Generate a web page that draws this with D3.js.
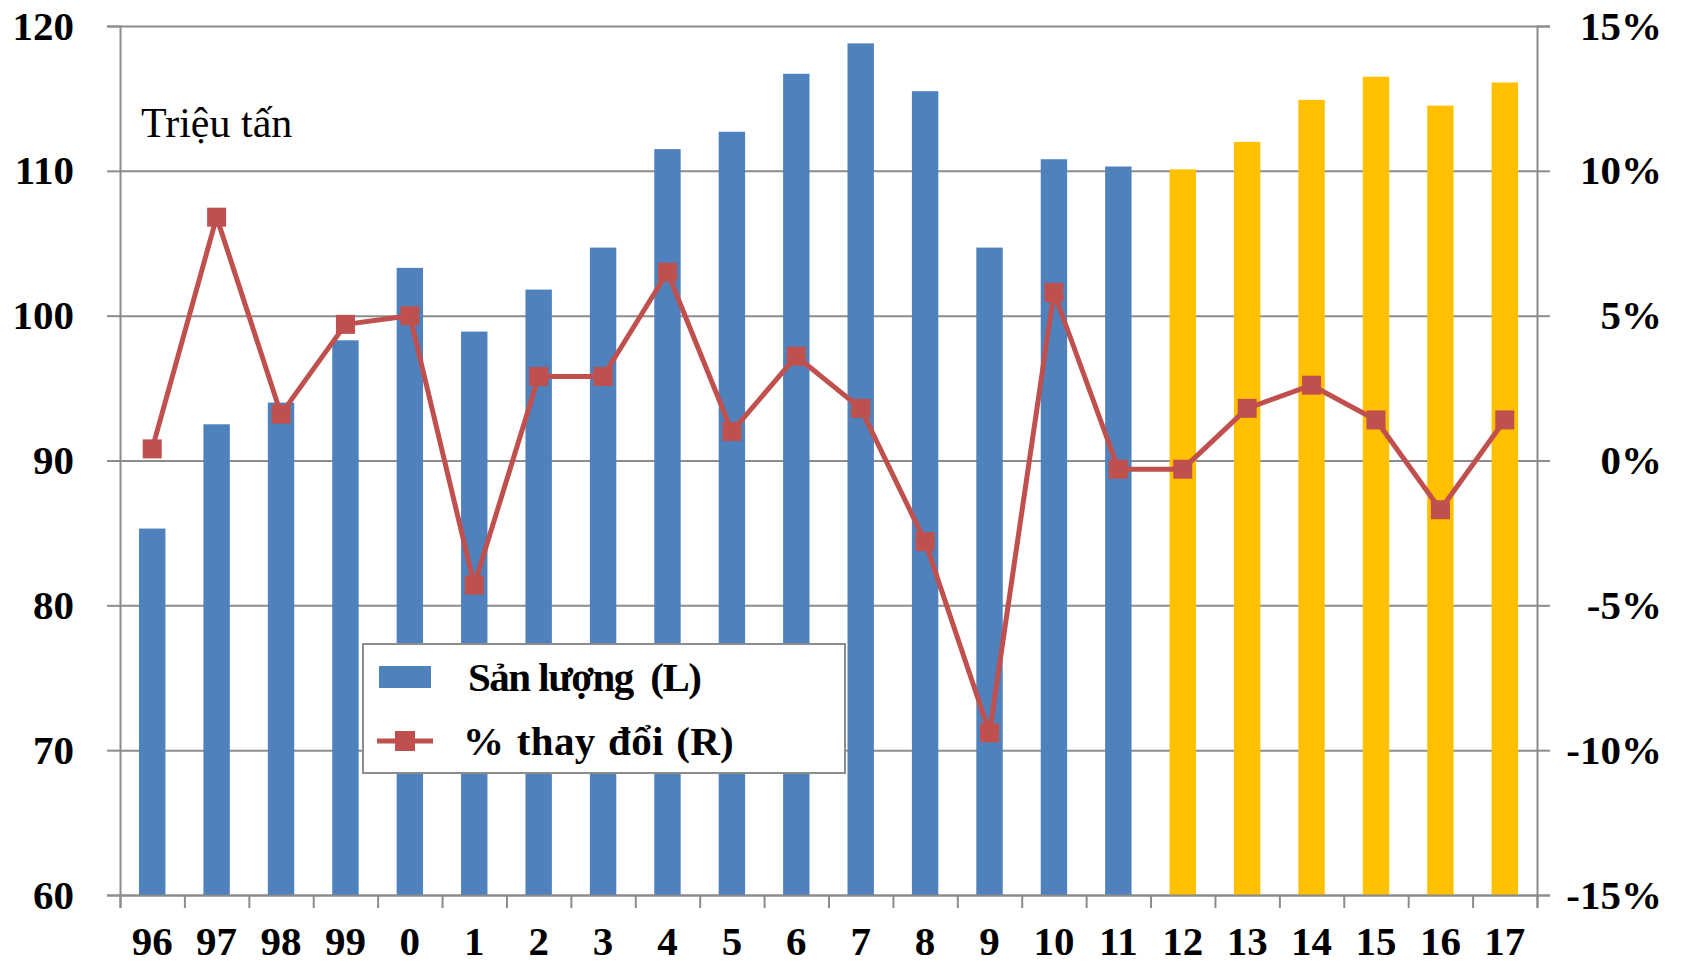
<!DOCTYPE html>
<html>
	<head>
		<title>San luong</title>
		<script src="https://d3js.org/d3.v7.min.js"></script>
		<style>
			body { margin: 0; background: #fff; }
			svg { display: block; }
			text { font-family: "Times New Roman", "Liberation Serif", serif; fill: #000; }
		</style>
	</head>
	<body>
		<svg id="chart" width="1682" height="965"></svg>
		<script>
			// data
			var years = ["96","97","98","99","0","1","2","3","4","5","6","7","8","9","10","11","12","13","14","15","16","17"];
			var production = [85.3, 92.5, 94.0, 98.3, 103.3, 98.9, 101.8, 104.7, 111.5, 112.7, 116.7, 118.8, 115.5, 104.7, 110.8, 110.3, 110.1, 112.0, 114.9, 116.5, 114.5, 116.1];
			var pctChange = [0.4, 8.4, 1.6, 4.7, 5.0, -4.3, 2.9, 2.9, 6.5, 1.0, 3.6, 1.8, -2.8, -9.4, 5.8, -0.3, -0.3, 1.8, 2.6, 1.4, -1.7, 1.4];
			var forecastYears = ["12","13","14","15","16","17"];
			var leftTicks = [60, 70, 80, 90, 100, 110, 120];
			var rightTicks = [-15, -10, -5, 0, 5, 10, 15];
			var seriesNames = ["Sản lượng  (L)", "% thay đổi (R)"];
			var unitLabel = "Triệu tấn";

			var rows = years.map(function(y, i) {
				return {year: y, prod: production[i], pct: pctChange[i]};
			});

			var margin = {top: 26, right: 145, bottom: 70, left: 120};
			var W = 1682, H = 965;
			var w = W - margin.left - margin.right;
			var h = H - margin.top - margin.bottom;

			var svg = d3.select("#chart");
			var g = svg.append("g").attr("transform", "translate(" + margin.left + "," + margin.top + ")");

			var x = d3.scaleBand().domain(years).range([0, w]).paddingInner(0.59).paddingOuter(0.295);
			var xIdx = d3.scaleLinear().domain([0, years.length]).range([0, w]);
			var y = d3.scaleLinear().domain([60, 120]).range([h, 0]);
			var y2 = d3.scaleLinear().domain([-15, 15]).range([h, 0]);

			var gridColor = "#8c8c8c";

			// gridlines
			g.append("g")
			.attr("class", "grid")
			.call(d3.axisLeft(y).tickValues(leftTicks).tickSize(-w).tickFormat(""))
			.call(function(s) {
				s.select(".domain").remove();
				s.selectAll("line").attr("stroke", gridColor).attr("stroke-width", 2);
			});

			// bars
			g.selectAll("rect.bar")
			.data(rows)
			.enter()
			.append("rect")
			.attr("class", "bar")
			.attr("x", function(d) { return x(d.year); })
			.attr("width", x.bandwidth())
			.attr("y", function(d) { return y(d.prod); })
			.attr("height", function(d) { return h - y(d.prod); })
			.attr("fill", function(d) { return forecastYears.indexOf(d.year) >= 0 ? "#FFC000" : "#4F81BD"; });

			// left axis
			g.append("g")
			.call(d3.axisLeft(y).tickValues(leftTicks).tickSize(13).tickPadding(33))
			.call(function(s) {
				s.select(".domain").attr("stroke", gridColor).attr("stroke-width", 2);
				s.selectAll("line").attr("stroke", gridColor).attr("stroke-width", 2);
				s.selectAll("text").style("font-size", "41px").style("font-weight", "bold");
			});

			// right axis
			g.append("g")
			.attr("transform", "translate(" + w + ",0)")
			.call(d3.axisRight(y2).tickValues(rightTicks).tickSize(13).tickFormat(function(d) { return d + "%"; }))
			.call(function(s) {
				s.select(".domain").attr("stroke", gridColor).attr("stroke-width", 2);
				s.selectAll("line").attr("stroke", gridColor).attr("stroke-width", 2);
				s.selectAll("text")
				.attr("x", 125)
				.attr("text-anchor", "end")
				.style("font-size", "41px").style("font-weight", "bold");
			});

			// bottom axis: tick marks at band edges
			g.append("g")
			.attr("transform", "translate(0," + h + ")")
			.call(d3.axisBottom(xIdx).tickValues(d3.range(years.length + 1)).tickSize(13).tickFormat(""))
			.call(function(s) {
				s.select(".domain").attr("stroke", gridColor).attr("stroke-width", 2);
				s.selectAll("line").attr("stroke", gridColor).attr("stroke-width", 2);
			});

			// bottom labels
			g.append("g")
			.attr("transform", "translate(0," + h + ")")
			.call(d3.axisBottom(x).tickSize(0).tickPadding(31))
			.call(function(s) {
				s.select(".domain").remove();
				s.selectAll("text").style("font-size", "41px").style("font-weight", "bold");
			});

			// percent change line
			var red = "#C0504D";
			var line = d3.line()
			.x(function(d) { return x(d.year) + x.bandwidth() / 2; })
			.y(function(d) { return y2(d.pct); });

			g.append("path")
			.datum(rows)
			.attr("d", line)
			.attr("fill", "none")
			.attr("stroke", red)
			.attr("stroke-width", 5)
			.attr("stroke-linejoin", "round");

			var ms = 19;
			g.selectAll("rect.mark")
			.data(rows)
			.enter()
			.append("rect")
			.attr("class", "mark")
			.attr("x", function(d) { return x(d.year) + x.bandwidth() / 2 - ms / 2; })
			.attr("y", function(d) { return y2(d.pct) - ms / 2; })
			.attr("width", ms)
			.attr("height", ms)
			.attr("fill", red);

			// unit label
			svg.append("text")
			.attr("x", 141)
			.attr("y", 137)
			.style("font-size", "42px")
			.text(unitLabel);

			// legend
			var lg = svg.append("g").attr("transform", "translate(363,644)");
			lg.append("rect")
			.attr("width", 482)
			.attr("height", 129)
			.attr("fill", "#fff")
			.attr("stroke", gridColor)
			.attr("stroke-width", 2);

			lg.append("rect")
			.attr("x", 16).attr("y", 22)
			.attr("width", 52).attr("height", 22)
			.attr("fill", "#4F81BD");

			lg.append("line")
			.attr("x1", 14).attr("x2", 70)
			.attr("y1", 97).attr("y2", 97)
			.attr("stroke", red).attr("stroke-width", 5);
			lg.append("rect")
			.attr("x", 32).attr("y", 87)
			.attr("width", 20).attr("height", 20)
			.attr("fill", red);

			lg.selectAll("text.leg")
			.data(seriesNames)
			.enter()
			.append("text")
			.attr("class", "leg")
			.attr("x", function(d, i) { return i == 0 ? 105 : 100; })
			.attr("y", function(d, i) { return i == 0 ? 47 : 111; })
			.attr("xml:space", "preserve")
			.style("white-space", "pre")
			.style("font-size", "41px")
			.style("font-weight", "bold")
			.style("letter-spacing", function(d, i) { return i == 0 ? "-1.5px" : "0.3px"; })
			.style("word-spacing", function(d, i) { return i == 0 ? "0px" : "2px"; })
			.text(function(d) { return d; });
		</script>
	</body>
</html>
